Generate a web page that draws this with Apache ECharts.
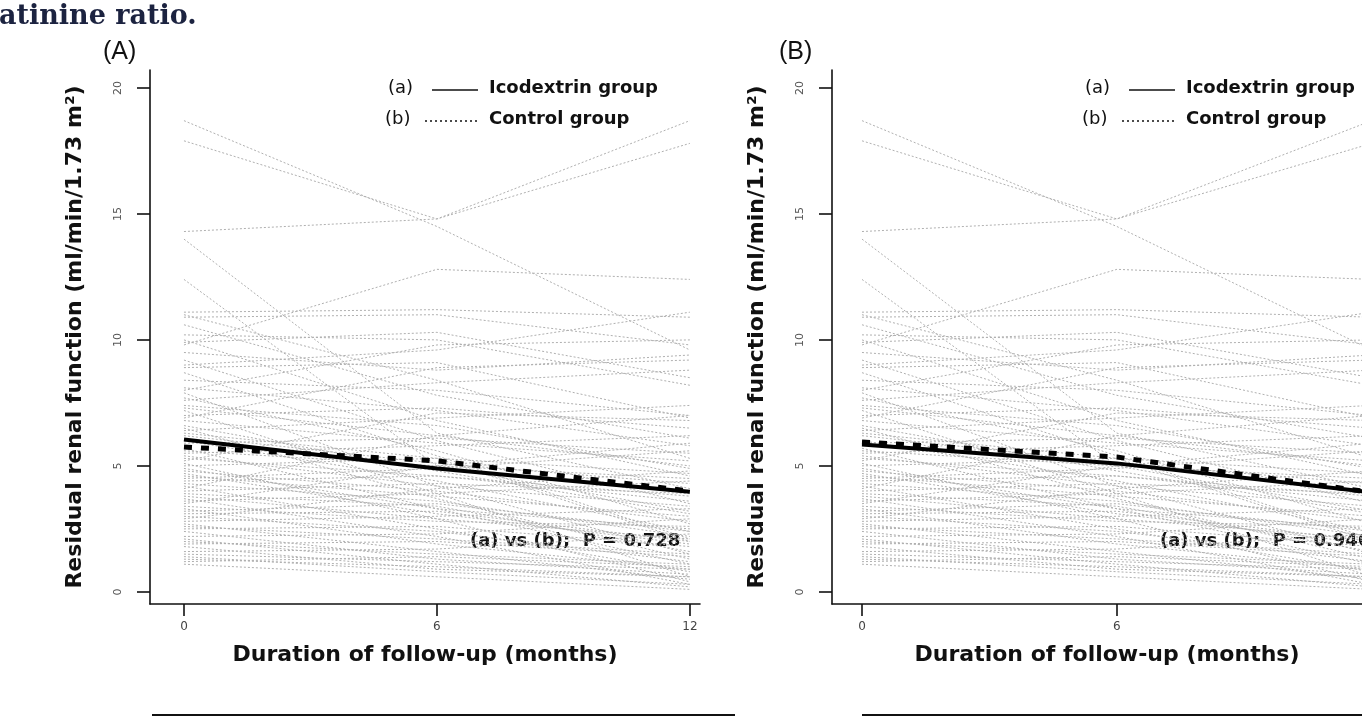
<!DOCTYPE html>
<html>
<head>
<meta charset="utf-8">
<title>Residual renal function</title>
<script src="https://cdn.jsdelivr.net/npm/echarts@6.0.0/dist/echarts.min.js"></script>
<style>
  html, body { margin: 0; padding: 0; background: #fff; }
  #chart { width: 1362px; height: 717px; }
</style>
</head>
<body>
<div id="chart"></div>
<script>
var months = [0, 6, 12];
var yTicks = [0, 5, 10, 15, 20];

// individual patients, RRF at 0, 6 and 12 months (grey background lines)
var patients = [
  [18.7, 14.5, 9.6], [17.9, 14.8, 18.7], [14.3, 14.8, 17.8], [9.8, 12.8, 12.4],
  [14.0, 6.3, 4.1], [12.4, 5.0, 3.2], [11.1, 11.2, 10.9], [10.9, 11.0, 9.8],
  [10.2, 10.0, 8.2], [10.6, 7.8, 6.1], [9.9, 10.3, 8.5], [9.5, 8.8, 9.4],
  [9.2, 6.0, 3.5], [8.9, 9.1, 6.9], [8.7, 5.4, 2.1], [8.4, 8.0, 7.0],
  [8.1, 7.2, 5.8], [7.9, 4.2, 1.5], [7.6, 8.3, 8.8], [7.4, 6.6, 4.9],
  [7.2, 3.9, 0.6], [7.0, 7.3, 6.5], [6.8, 5.9, 5.2], [6.6, 4.8, 3.1],
  [6.4, 6.9, 7.4], [6.2, 5.1, 4.3], [6.0, 4.4, 2.4], [5.9, 6.1, 5.5],
  [5.7, 3.3, 1.1], [5.5, 5.8, 6.2], [5.3, 4.6, 3.8], [5.1, 2.9, 0.4],
  [5.0, 5.3, 4.7], [4.8, 4.0, 2.8], [4.7, 3.1, 1.9], [4.5, 4.9, 5.6],
  [4.3, 3.6, 2.2], [4.2, 2.5, 0.8], [4.0, 4.3, 3.9], [3.9, 3.4, 1.6],
  [3.7, 2.2, 0.3], [3.6, 3.9, 4.4], [3.4, 2.8, 2.6], [3.3, 1.9, 0.9],
  [3.1, 3.2, 2.0], [3.0, 2.4, 1.2], [2.8, 3.0, 3.3], [2.7, 1.6, 0.5],
  [2.5, 2.6, 1.8], [2.4, 1.3, 0.7], [2.2, 2.3, 2.9], [2.1, 1.1, 0.2],
  [1.9, 2.0, 1.4], [1.8, 0.9, 0.6], [1.6, 1.7, 2.3], [1.5, 1.2, 0.9],
  [1.4, 0.8, 0.3], [1.2, 1.4, 1.0], [1.1, 0.6, 0.1], [9.0, 9.6, 11.1],
  [8.0, 9.8, 10.0], [6.9, 8.9, 9.2], [5.2, 7.1, 6.8], [4.1, 6.2, 7.0],
  [3.5, 5.0, 5.9], [10.0, 6.8, 4.6], [11.0, 8.4, 5.3], [7.7, 5.6, 2.7],
  [6.5, 3.7, 1.3], [2.9, 4.1, 4.8], [4.6, 3.8, 3.0], [3.8, 2.9, 2.1],
  [2.6, 2.1, 1.5], [1.3, 1.0, 0.6], [5.4, 4.2, 3.4], [6.3, 5.3, 2.0],
  [4.4, 4.6, 3.6], [3.2, 3.5, 2.4], [2.0, 1.5, 1.1], [5.6, 5.0, 4.5],
  [4.9, 3.3, 2.5], [7.3, 6.2, 5.0]
];

// group means
var icoA = [6.05, 4.9, 3.97];
var ctrlA = [5.75, 5.2, 4.0];
var icoB = [5.85, 5.1, 3.95];
var ctrlB = [5.95, 5.35, 3.95];
var pValues = ['0.728', '0.946'];

var chart = echarts.init(document.getElementById('chart'));

var sans = 'DejaVu Sans';
var axisColor = '#111';

function pts(vals) {
  return vals.map(function (v, i) { return [months[i], v]; });
}

function makeX(i, min, max) {
  return {
    gridIndex: i, type: 'value', min: min, max: max,
    axisLine: { show: true, onZero: false, lineStyle: { color: axisColor, width: 1.6 } },
    axisTick: { show: true, customValues: months, length: 12, lineStyle: { color: axisColor, width: 1.6 } },
    axisLabel: { customValues: months, color: '#444', fontSize: 12, fontFamily: sans, margin: 17 },
    splitLine: { show: false },
    name: 'Duration of follow-up (months)', nameLocation: 'middle', nameGap: 40,
    nameTextStyle: { fontFamily: sans, fontWeight: 'bold', fontSize: 22, color: axisColor }
  };
}

function makeY(i) {
  return {
    gridIndex: i, type: 'value', min: -0.48, max: 20.71,
    axisLine: { show: true, onZero: false, lineStyle: { color: axisColor, width: 1.6 } },
    axisTick: { show: true, customValues: yTicks, length: 13, lineStyle: { color: axisColor, width: 1.6 } },
    axisLabel: { customValues: yTicks, rotate: 90, color: '#555', fontSize: 11, fontFamily: sans, margin: 26 },
    splitLine: { show: false },
    name: 'Residual renal function (ml/min/1.73 m\u00b2)', nameLocation: 'middle', nameGap: 64,
    nameTextStyle: { fontFamily: sans, fontWeight: 'bold', fontSize: 22, color: axisColor }
  };
}

var series = [];
[0, 1].forEach(function (g) {
  patients.forEach(function (p) {
    series.push({
      type: 'line', xAxisIndex: g, yAxisIndex: g, data: pts(p),
      symbol: 'none', silent: true, z: 1,
      lineStyle: { color: '#b0b0b0', width: 1, type: [2, 2] }
    });
  });
});

var means = [[icoA, ctrlA], [icoB, ctrlB]];
means.forEach(function (m, g) {
  series.push({
    name: 'Icodextrin group', type: 'line', xAxisIndex: g, yAxisIndex: g, data: pts(m[0]),
    symbol: 'none', z: 5, lineStyle: { color: '#000', width: 4 }
  });
  series.push({
    name: 'Control group', type: 'line', xAxisIndex: g, yAxisIndex: g, data: pts(m[1]),
    symbol: 'none', z: 6, lineStyle: { color: '#000', width: 5, type: [8, 9], cap: 'butt' }
  });
});

function legendBlock(x, y) {
  var t = { fontFamily: sans, fontWeight: 'bold', fontSize: 18, fill: '#111' };
  return [
    { type: 'text', left: x, top: y - 11, style: Object.assign({ text: '(a)' }, t, { fontWeight: 'normal' }) },
    { type: 'line', shape: { x1: x + 44, y1: y, x2: x + 90, y2: y }, style: { stroke: '#111', lineWidth: 1.6 } },
    { type: 'text', left: x + 101, top: y - 11, style: Object.assign({ text: 'Icodextrin group' }, t) },
    { type: 'text', left: x - 3, top: y + 20, style: Object.assign({ text: '(b)' }, t, { fontWeight: 'normal' }) },
    { type: 'line', shape: { x1: x + 37, y1: y + 31, x2: x + 90, y2: y + 31 }, style: { stroke: '#111', lineWidth: 1.6, lineDash: [2, 3] } },
    { type: 'text', left: x + 101, top: y + 20, style: Object.assign({ text: 'Control group' }, t) }
  ];
}

var graphic = [
  { type: 'text', left: -1, top: 3, style: { text: 'atinine ratio.', fontFamily: 'DejaVu Serif', fontWeight: 'bold', fontSize: 27, fill: '#1c2340' } },
  { type: 'text', left: 103, top: 40, style: { text: '(A)', fontFamily: 'Liberation Sans', fontSize: 25, fill: '#111' } },
  { type: 'text', left: 779, top: 40, style: { text: '(B)', fontFamily: 'Liberation Sans', fontSize: 25, fill: '#111' } },
  { type: 'text', left: 470, top: 532, style: { text: '(a) vs (b);  P = ' + pValues[0], fontFamily: sans, fontWeight: 'bold', fontSize: 18, fill: '#111' } },
  { type: 'text', left: 1160, top: 532, style: { text: '(a) vs (b);  P = ' + pValues[1], fontFamily: sans, fontWeight: 'bold', fontSize: 18, fill: '#111' } },
  { type: 'line', shape: { x1: 152, y1: 715, x2: 735, y2: 715 }, style: { stroke: '#111', lineWidth: 2 } },
  { type: 'line', shape: { x1: 862, y1: 715, x2: 1362, y2: 715 }, style: { stroke: '#111', lineWidth: 2 } }
].concat(legendBlock(388, 90)).concat(legendBlock(1085, 90));

var option = {
  animation: false,
  backgroundColor: '#fff',
  grid: [
    { left: 150, top: 70, width: 550, height: 534, outerBoundsMode: 'none' },
    { left: 832, top: 70, width: 550, height: 534, outerBoundsMode: 'none' }
  ],
  xAxis: [makeX(0, -0.806, 12.24), makeX(1, -0.706, 12.24)],
  yAxis: [makeY(0), makeY(1)],
  series: series,
  graphic: graphic
};

chart.setOption(option);
</script>
</body>
</html>
